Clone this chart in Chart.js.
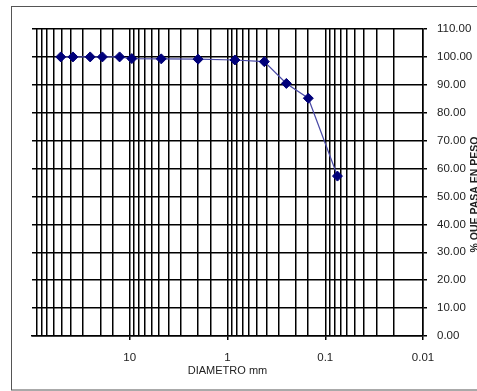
<!DOCTYPE html>
<html>
    <head>
        <meta charset="UTF-8">
        <title>Curva granulometrica</title>
        <style>
            html, body {
                margin: 0;
                padding: 0;
                background: #ffffff;
            }
            #box {
                position: absolute;
                left: 0;
                top: 0;
                width: 477px;
                height: 391px;
            }
        </style>
        <script src="https://cdn.jsdelivr.net/npm/chart.js"></script>
    </head>
    <body>
        <div id="box">
            <canvas id="granChart" width="477" height="391"></canvas>
        </div>
        <script>
            // datos de la curva (diametro en mm, % que pasa)
            const diametros = [50.8, 38.1, 25.4, 19.05, 12.7, 9.525, 4.76, 2.0, 0.84, 0.42, 0.25, 0.149, 0.075];
            const pasa = [100, 100, 100, 100, 100, 99.4, 99.3, 99.2, 98.9, 98.3, 90.5, 85.2, 57.3];
            const xTickLabels = [10, 1, 0.1, 0.01];
            const yTitle = '% QUE PASA EN PESO';
            const xTitle = 'DIAMETRO mm';

            const puntos = diametros.map(function(d, i) { return {x: d, y: pasa[i]}; });

            function esDecada(v) {
                const l = Math.log10(v);
                return Math.abs(l - Math.round(l)) < 1e-6;
            }

            // marco exterior y titulo vertical
            const marco = {
                id: 'marco',
                beforeDraw: function(chart) {
                    const c = chart.ctx;
                    c.save();
                    c.fillStyle = '#ffffff';
                    c.fillRect(0, 0, chart.width, chart.height);
                    c.strokeStyle = '#555555';
                    c.lineWidth = 1;
                    c.strokeRect(11.5, 6.5, 480, 383.5);
                    c.restore();
                },
                afterDraw: function(chart) {
                    const c = chart.ctx;
                    const a = chart.chartArea;
                    c.save();
                    c.translate(475, (a.top + a.bottom) / 2 + 12);
                    c.rotate(-Math.PI / 2);
                    c.font = 'bold 10.5px "Liberation Sans", Arial, sans-serif';
                    c.fillStyle = '#222222';
                    c.textAlign = 'center';
                    c.textBaseline = 'middle';
                    c.fillText(yTitle, 0, 0);
                    c.restore();
                }
            };

            const fuente = {family: '"Liberation Sans", Arial, sans-serif', size: 11.5};

            const ctx = document.getElementById('granChart').getContext('2d');
            const granChart = new Chart(ctx, {
                type: 'scatter',
                data: {
                    datasets: [{
                        data: puntos,
                        showLine: true,
                        borderColor: '#4a4aa6',
                        borderWidth: 1.2,
                        pointStyle: 'rectRot',
                        pointRadius: 5,
                        pointBackgroundColor: '#00007a',
                        pointBorderColor: '#00007a',
                        pointBorderWidth: 1
                    }]
                },
                options: {
                    responsive: false,
                    animation: false,
                    devicePixelRatio: 1,
                    layout: {
                        padding: {left: 32, top: 29, right: 0, bottom: 0}
                    },
                    plugins: {
                        legend: {display: false},
                        tooltip: {enabled: false}
                    },
                    scales: {
                        x: {
                            type: 'logarithmic',
                            reverse: true,
                            min: 0.01,
                            max: 100,
                            afterFit: function(s) { s.height = 55; },
                            border: {display: true, color: '#000000', width: 1.5},
                            grid: {
                                color: function(c) {
                                    return c.tick && c.tick.value === 100 ? 'rgba(0,0,0,0)' : '#000000';
                                },
                                tickColor: function(c) {
                                    if (!c.tick || c.tick.value === 100) return 'rgba(0,0,0,0)';
                                    return esDecada(c.tick.value) ? '#000000' : 'rgba(0,0,0,0)';
                                },
                                tickLength: 4,
                                lineWidth: 1.5
                            },
                            ticks: {
                                autoSkip: false,
                                maxRotation: 0,
                                padding: 11,
                                color: '#222222',
                                font: fuente,
                                callback: function(value) {
                                    const v = Number(value);
                                    for (const t of xTickLabels) {
                                        if (Math.abs(v - t) < t * 1e-6) return String(t);
                                    }
                                    return '';
                                }
                            },
                            title: {
                                display: true,
                                text: xTitle,
                                color: '#222222',
                                font: {family: '"Liberation Sans", Arial, sans-serif', size: 11},
                                padding: {top: 0, bottom: 13}
                            }
                        },
                        y: {
                            position: 'right',
                            min: 0,
                            max: 110,
                            afterFit: function(s) { s.width = 54; },
                            border: {display: true, color: '#000000', width: 1.5},
                            grid: {
                                color: '#000000',
                                tickColor: '#000000',
                                tickLength: 4,
                                lineWidth: 1.5
                            },
                            ticks: {
                                stepSize: 10,
                                padding: 10,
                                color: '#222222',
                                font: fuente,
                                callback: function(value) { return Number(value).toFixed(2); }
                            }
                        }
                    }
                },
                plugins: [marco]
            });
        </script>
    </body>
</html>
